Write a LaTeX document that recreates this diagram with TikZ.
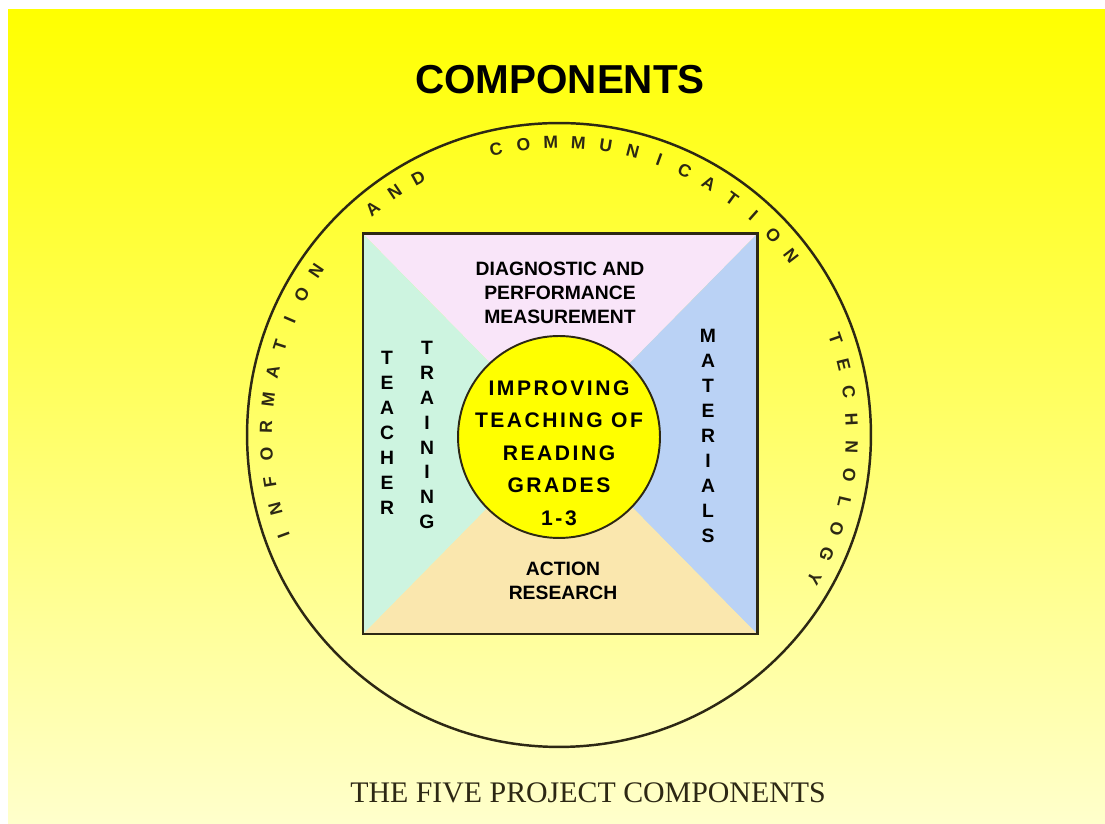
\documentclass[tikz,border=0pt]{standalone}
\usepackage{fontspec}
\setmainfont{Liberation Sans}
\newfontfamily\capfont{Liberation Serif}
\newfontfamily\hubfont[LetterSpace=12]{Liberation Sans}
\usepackage{tikz}
\usepackage{xcolor}
\definecolor{slideyellow}{RGB}{255,255,0}
\definecolor{slidepale}{RGB}{255,255,204}
\definecolor{quadpink}{RGB}{249,229,249}
\definecolor{quadmint}{RGB}{205,244,224}
\definecolor{quadblue}{RGB}{186,210,245}
\definecolor{quadpeach}{RGB}{250,231,174}
\definecolor{inkdark}{RGB}{45,40,20}

\begin{document}
\begin{tikzpicture}[
  x=0.02cm, y=0.02cm,
  rim/.style={circle, draw=inkdark, line width=1.4pt, minimum size=12.48cm, inner sep=0pt},
  hub/.style={circle, draw=inkdark, line width=1.1pt, fill=slideyellow, minimum size=4.04cm, inner sep=0pt},
  frame/.style={draw=inkdark, line width=1.7pt},
  quad/.style={font=\fontsize{11}{13.6}\selectfont\bfseries, align=center, inner sep=0pt},
  column/.style={font=\fontsize{11}{14.2}\selectfont\bfseries, align=center, inner sep=0pt},
  hubtext/.style={font=\hubfont\bfseries\fontsize{12}{18.5}\selectfont, align=center, inner sep=0pt},
  ringletter/.style={font=\fontsize{10}{10}\selectfont\bfseries, text=inkdark, inner sep=0pt},
]
  \useasboundingbox (0,0) rectangle (1105,824);
  \fill[white] (0,0) rectangle (1105,824);
  \shade[top color=slideyellow, bottom color=slidepale] (8,0) rectangle (1105,814);

  \node[font=\fontsize{23}{23}\selectfont\bfseries] (title) at (560,744) {COMPONENTS};

  \coordinate (mid) at (560,390);
  \coordinate (nw) at (363,590);
  \coordinate (ne) at (757,590);
  \coordinate (se) at (757,190);
  \coordinate (sw) at (363,190);
  \fill[quadpink] (nw) -- (ne) -- (mid) -- cycle;
  \fill[quadblue] (ne) -- (se) -- (mid) -- cycle;
  \fill[quadpeach] (se) -- (sw) -- (mid) -- cycle;
  \fill[quadmint] (sw) -- (nw) -- (mid) -- cycle;
  \draw[frame] (sw) rectangle (ne);

  \node[rim] (rim) at (559,389) {};
  \node[hub] (hub) at (559,387) {};
  \node[hubtext] (goal) at (559,371) {IMPROVING\\TEACHING OF\\READING\\GRADES\\1-3};

  \node[quad] (diag) at (560,531) {DIAGNOSTIC AND\\PERFORMANCE\\MEASUREMENT};
  \node[quad] (action) at (563,243) {ACTION\\RESEARCH};
  \node[column] (teacher) at (387,391) {T\\E\\A\\C\\H\\E\\R};
  \node[column] (training) at (427,389) {T\\R\\A\\I\\N\\I\\N\\G};
  \node[column] (materials) at (708,388) {M\\A\\T\\E\\R\\I\\A\\L\\S};

  \begin{scope}[shift={(rim.center)}]
    \foreach \word/\start/\letters in {info/200/{I,N,F,O,R,M,A,T,I,O,N}, and/129.5/{A,N,D},
        comm/102.4/{C,O,M,M,U,N,I,C,A,T,I,O,N}, tech/19.2/{T,E,C,H,N,O,L,O,G,Y}}
      \foreach \ch [count=\i from 0] in \letters
        \node[ringletter, rotate={\start-90-\i*5.4}] (\word\i) at ({\start-\i*5.4}:293) {\ch};
  \end{scope}

  \node[font=\capfont\fontsize{17}{17}\selectfont, text=inkdark] (caption) at (588,31) {THE FIVE PROJECT COMPONENTS};
\end{tikzpicture}
\end{document}
